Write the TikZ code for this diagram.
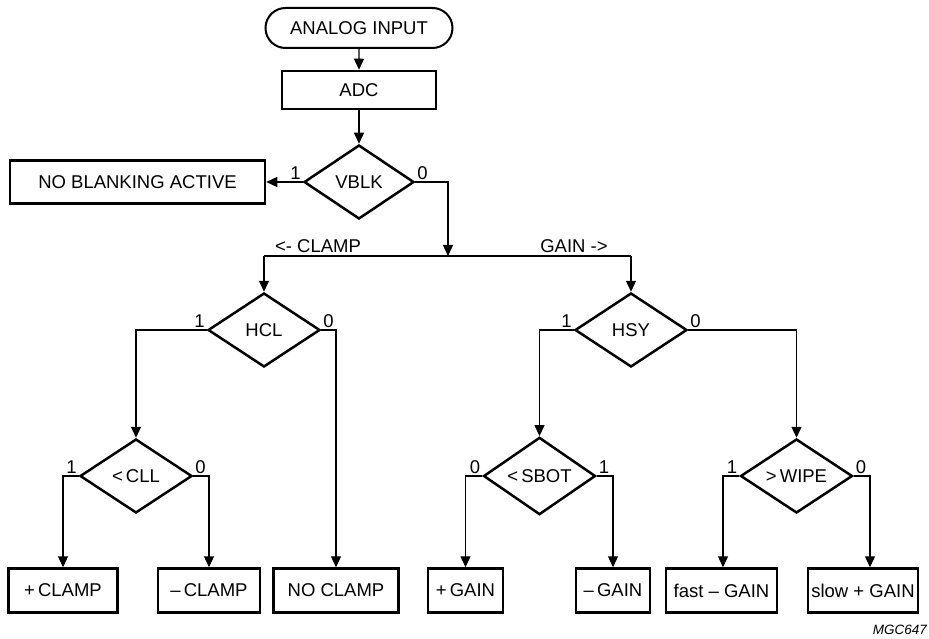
\documentclass[tikz,border=0pt]{standalone}
\usepackage{fontspec}
\setmainfont{Liberation Sans}
\usetikzlibrary{shapes.geometric,shapes.misc,arrows.meta}
\begin{document}
\begin{tikzpicture}[x=1pt,y=-1pt,
  font=\fontsize{18.5}{21}\selectfont,
  box/.style={draw,line width=2.5pt,rectangle,minimum height=44pt,inner sep=2pt},
  term/.style={draw,line width=2pt,rounded rectangle,minimum width=191pt,minimum height=40pt,inner sep=2pt},
  dec/.style={draw,line width=2.5pt,diamond,minimum width=112pt,minimum height=74pt,inner sep=0pt},
  conn/.style={line width=1.3pt},
  arr/.style={conn,-{Triangle[length=11pt,width=10pt]}},
  lblw/.style={anchor=south east,inner sep=2pt},
  lble/.style={anchor=south west,inner sep=2pt},
  head/.style={inner sep=1pt}]
\useasboundingbox (0,0) rectangle (929,639);

\node[term] (input) at (359,28) {ANALOG INPUT};
\node[box,minimum width=154pt,minimum height=38pt] (adc) at (359,90) {ADC};
\node[dec,minimum width=110pt] (vblk) at (359,182) {VBLK};
\node[box,minimum width=255pt,minimum height=43pt] (noblank) at (137.5,182) {NO BLANKING ACTIVE};

\node[dec] (hcl) at (264,330) {HCL};
\node[dec] (hsy) at (631,330) {HSY};
\node[dec] (cll) at (136,476) {<\,CLL};
\node[dec] (sbot) at (539.5,476) {<\,SBOT};
\node[dec] (wipe) at (796.5,476) {>\,WIPE};

\node[box,minimum width=109pt] (pclamp) at (63,590.5) {+\,CLAMP};
\node[box,minimum width=102pt] (mclamp) at (209,590.5) {–\,CLAMP};
\node[box,minimum width=125pt] (noclamp) at (336,590.5) {NO CLAMP};
\node[box,minimum width=75pt] (pgain) at (465.5,590.5) {+\,GAIN};
\node[box,minimum width=74pt] (mgain) at (613,590.5) {–\,GAIN};
\node[box,minimum width=111pt] (fgain) at (721.5,590.5) {fast – GAIN};
\node[box,minimum width=110pt] (sgain) at (863,590.5) {slow + GAIN};

\node[anchor=south east,inner sep=0pt,font=\fontsize{13.5}{15}\selectfont\itshape] (mgc) at (927,635) {MGC647};

% labels
\node[lblw] (l1) at (vblk.west) {1};
\node[lble] (l2) at (vblk.east) {0};
\node[lblw] (l3) at (hcl.west) {1};
\node[lble] (l4) at (hcl.east) {0};
\node[lblw] (l5) at (hsy.west) {1};
\node[lble] (l6) at (hsy.east) {0};
\node[lblw] (l7) at (cll.west) {1};
\node[lble] (l8) at (cll.east) {0};
\node[lblw] (l9) at (sbot.west) {0};
\node[lble] (l10) at (sbot.east) {1};
\node[lblw] (l11) at (wipe.west) {1};
\node[lble] (l12) at (wipe.east) {0};

\coordinate (split) at (448,256);
\coordinate (lc) at (264,256);
\coordinate (rc) at (631,256);
\node[head,anchor=south] (clamphead) at (318,254) {<- CLAMP};
\node[head,anchor=south] (gainhead) at (574,254) {GAIN ->};

% connectors
\draw[arr] (input) -- (adc);
\draw[arr] (adc) -- (vblk.north);
\draw[arr] (vblk.west) -- (noblank.east);
\draw[arr] (vblk.east) -| (split);
\draw[conn] (lc) -- (rc);
\draw[arr] (lc) -- (hcl.north);
\draw[arr] (rc) -- (hsy.north);
\draw[arr] (hcl.west) -| (cll.north);
\draw[arr] (hcl.east) -| (noclamp.north);
\draw[arr] (hsy.west) -| (sbot.north);
\draw[arr] (hsy.east) -| (wipe.north);
\draw[arr] (cll.west) -| (pclamp.north);
\draw[arr] (cll.east) -| (mclamp.north);
\draw[arr] (sbot.west) -| (pgain.north);
\draw[arr] (sbot.east) -| (mgain.north);
\draw[arr] (wipe.west) -| ([xshift=1.5pt]fgain.north);
\draw[arr] (wipe.east) -| ([xshift=7pt]sgain.north);
\end{tikzpicture}
\end{document}
